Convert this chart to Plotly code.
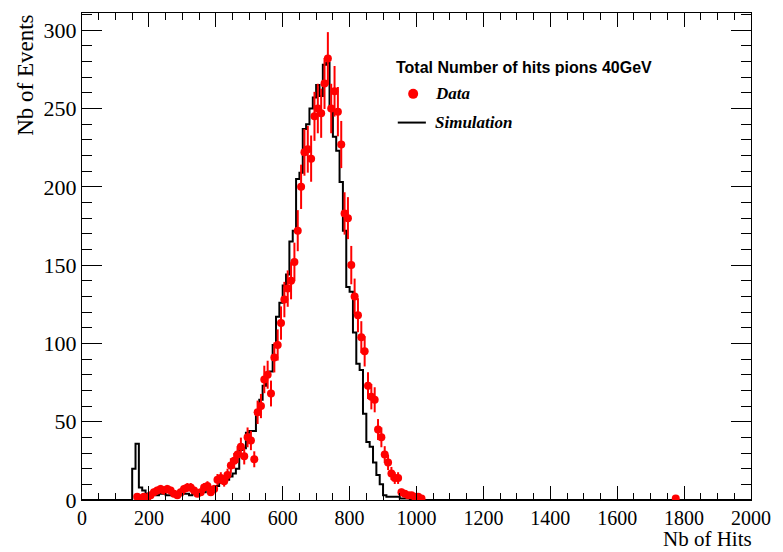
import plotly.graph_objects as go
import numpy as np

bin_width = 10

# Simulation histogram: left bin edges and counts
sim_edges = list(range(150, 1010, 10))
sim_counts = [20, 36, 8, 6, 4, 3, 4, 3, 4, 4,
              3, 3, 3, 4, 3, 4, 4, 3, 4, 5,
              6, 5, 7, 7, 8, 9, 11, 11, 13, 15,
              17, 20, 32, 33, 43, 44, 44, 55, 64, 73,
              79, 82, 99, 117, 126, 137, 144, 165, 172, 205,
              209, 237, 240, 250, 257, 265, 258, 278, 279, 250,
              232, 223, 203, 172, 136, 133, 107, 87, 83, 55,
              37, 34, 24, 16, 10, 3, 2, 2, 2, 2,
              1, 1, 1, 0.5, 0.5, 0.5]

# Data: bin centres and counts
data_x = [165, 175, 185, 195, 205, 215, 225, 235, 245, 255,
          265, 275, 285, 295, 305, 315, 325, 335, 345, 355,
          365, 375, 385, 395, 405, 415, 425, 435, 445, 455,
          465, 475, 485, 495, 505, 515, 525, 535, 545, 555,
          565, 575, 585, 595, 605, 615, 625, 635, 645, 655,
          665, 675, 685, 695, 705, 715, 725, 735, 745, 755,
          765, 775, 785, 795, 805, 815, 825, 835, 845, 855,
          865, 875, 885, 895, 905, 915, 925, 935, 945, 955,
          965, 975, 985, 995, 1005, 1015, 1775]
data_y = [2, 1, 2, 1, 3, 5, 6, 7, 6, 7,
          6, 4, 3, 5, 7, 8, 8, 6, 4, 5,
          8, 9, 5, 7, 13, 14, 12, 16, 22, 25,
          29, 34, 28, 40, 38, 26, 56, 60, 77, 80,
          68, 91, 99, 113, 128, 135, 140, 152, 172, 200,
          222, 224, 218, 245, 250, 247, 266, 282, 250, 261,
          248, 227, 183, 180, 150, 130, 118, 104, 95, 73,
          66, 64, 45, 40, 29, 24, 17, 14, 14, 5,
          4, 3, 3, 2, 2, 1, 1]

x_tick_vals = [0, 200, 400, 600, 800, 1000, 1200, 1400, 1600, 1800, 2000]
y_tick_vals = [0, 50, 100, 150, 200, 250, 300]

# Build step line for simulation
sx = [0, sim_edges[0]] + [e for e in sim_edges[1:]] + [sim_edges[-1] + bin_width, 2000]
sy = [0, sim_counts[0]] + sim_counts[1:] + [0, 0]

fig = go.Figure()
fig.add_trace(go.Scatter(
    x=sx, y=sy, mode="lines", line=dict(color="black", width=2, shape="hv"),
    name="Simulation", showlegend=False, hoverinfo="skip"))

err_y = [float(np.sqrt(v)) for v in data_y]
fig.add_trace(go.Scatter(
    x=data_x, y=data_y, mode="markers",
    marker=dict(color="#ff0000", size=8, symbol="circle"),
    error_y=dict(type="data", array=err_y, color="#ff0000", thickness=2, width=0),
    error_x=dict(type="constant", value=4, color="#ff0000", thickness=1, width=0),
    showlegend=False))

axis_common = dict(showline=True, linecolor="black", linewidth=1, mirror="ticks",
                   ticks="inside", tickcolor="black", showgrid=False, zeroline=False)

fig.update_xaxes(range=[0, 2000], tickvals=x_tick_vals, ticklen=14, tickwidth=1,
                 tickfont=dict(family="Liberation Serif", size=20, color="black"),
                 minor=dict(dtick=50, ticklen=7, ticks="inside", tickcolor="black", showgrid=False),
                 **axis_common)
fig.update_yaxes(range=[0, 311], tickvals=y_tick_vals, ticklen=20, tickwidth=1,
                 tickfont=dict(family="Liberation Serif", size=22, color="black"),
                 minor=dict(dtick=10, ticklen=10, ticks="inside", tickcolor="black", showgrid=False),
                 **axis_common)

# Axis titles
fig.add_annotation(text="Nb of Hits", xref="paper", yref="paper", x=1.003, y=-0.1066,
                   xanchor="right", yanchor="bottom", showarrow=False, borderpad=0,
                   font=dict(family="Liberation Serif", size=21, color="black"))
fig.add_annotation(text="Nb of Events", xref="paper", yref="paper", x=-0.0847, y=1.0,
                   xanchor="center", yanchor="top", textangle=-90, showarrow=False,
                   font=dict(family="Liberation Serif", size=23, color="black"))

# Legend (manual)
fig.add_annotation(text="<b>Total Number of hits pions 40GeV</b>", xref="paper", yref="paper",
                   x=0.466, y=0.889, xanchor="left", yanchor="middle", showarrow=False,
                   font=dict(family="Liberation Sans", size=16, color="black"))
fig.add_trace(go.Scatter(x=[0.495], y=[0.834], xaxis="x2", yaxis="y2", mode="markers",
                         marker=dict(color="#ff0000", size=10), showlegend=False, hoverinfo="skip"))
fig.add_trace(go.Scatter(x=[0.472, 0.514], y=[0.775, 0.775], xaxis="x2", yaxis="y2", mode="lines",
                         line=dict(color="black", width=2), showlegend=False, hoverinfo="skip"))
fig.add_annotation(text="<b><i>Data</i></b>", xref="paper", yref="paper",
                   x=0.525, y=0.834, xanchor="left", yanchor="middle", showarrow=False,
                   font=dict(family="Liberation Serif", size=17, color="black"))
fig.add_annotation(text="<b><i>Simulation</i></b>", xref="paper", yref="paper",
                   x=0.525, y=0.775, xanchor="left", yanchor="middle", showarrow=False,
                   font=dict(family="Liberation Serif", size=17, color="black"))

fig.update_layout(
    xaxis2=dict(domain=[0, 1], range=[0, 1], visible=False, overlaying="x", anchor="y2"),
    yaxis2=dict(domain=[0, 1], range=[0, 1], visible=False, overlaying="y", anchor="x2"),
    width=783, height=552,
    margin=dict(l=82, r=28, t=12, b=52),
    paper_bgcolor="white", plot_bgcolor="white",
    showlegend=False,
)

fig.write_html("out.html")
